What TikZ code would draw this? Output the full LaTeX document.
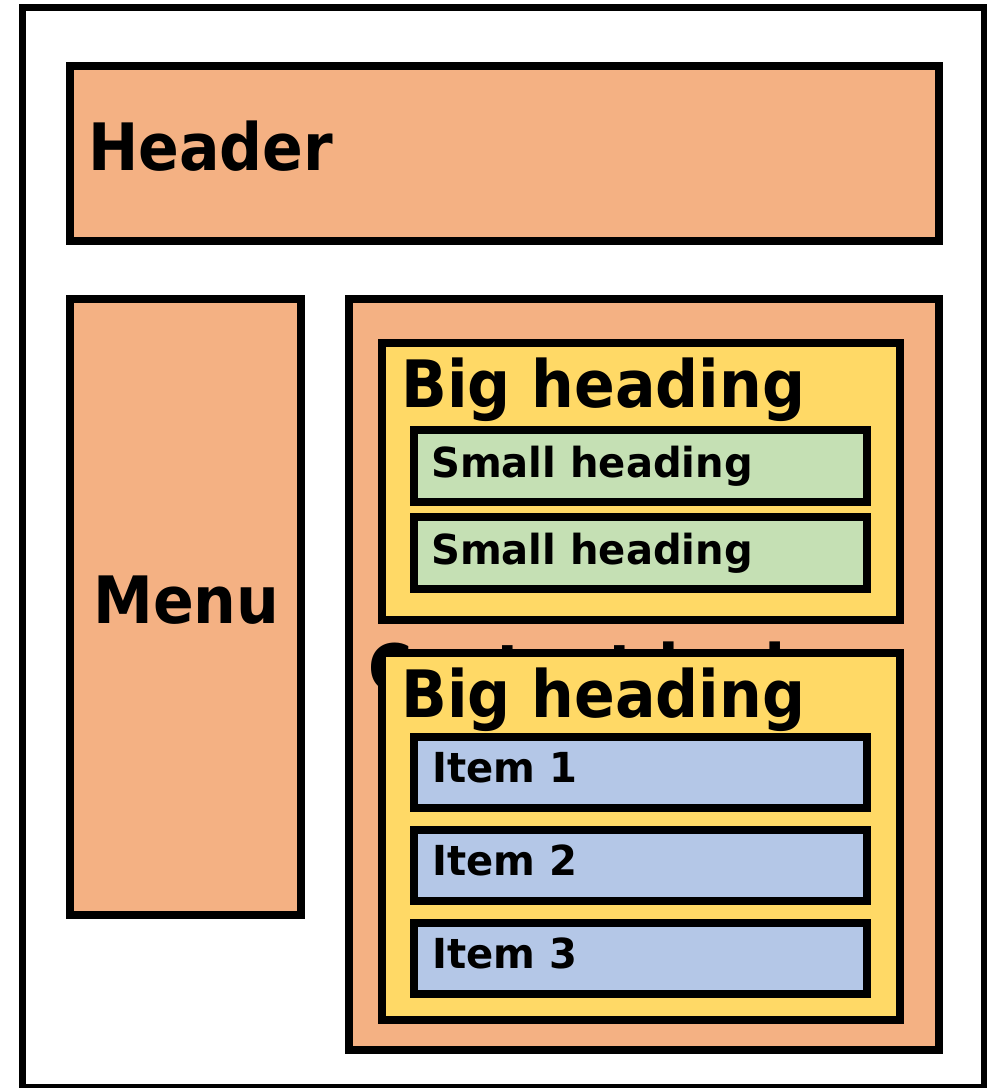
\documentclass[tikz,border=0pt]{standalone}
\usepackage{fontspec}
\setmainfont{DejaVu Sans}
\newfontfamily\labelfont{DejaVu Sans}[FakeStretch=0.92]
\newfontfamily\smalllabelfont{DejaVu Sans}[FakeStretch=0.97]
\definecolor{panelorange}{HTML}{F4B183}
\definecolor{panelyellow}{HTML}{FFD966}
\definecolor{panelgreen}{HTML}{C5E0B4}
\definecolor{panelblue}{HTML}{B4C7E7}
\tikzset{
  frame/.style={draw=black, line width=5.25pt, fill=white},
  panel/.style={draw=black, line width=6pt, fill=#1},
  bigtext/.style={inner sep=0pt, anchor=base west, font=\labelfont\bfseries\fontsize{49}{58}\selectfont},
  smalltext/.style={inner sep=0pt, anchor=base west, font=\smalllabelfont\bfseries\fontsize{31}{37}\selectfont},
}
\begin{document}
\begin{tikzpicture}[x=0.75pt, y=-0.75pt]
  \useasboundingbox (0,0) rectangle (987,1088);
  % page frame
  \draw[frame] (22.5,7.5) rectangle (984.5,1087.5);
  % header
  \draw[panel=panelorange] (70,66) rectangle (939,241);
  \node[bigtext] (header) at (88,170) {Header};
  % side menu
  \draw[panel=panelorange] (70,299) rectangle (301,915);
  \node[bigtext] (menu) at (93,623) {Menu};
  % content area with its label underneath the sections
  \draw[panel=panelorange] (349,299) rectangle (939,1050);
  \node[bigtext] (content) at (368,691) {Content body};
  % first section
  \draw[panel=panelyellow] (382,343) rectangle (899.5,620);
  \node[bigtext] (big1) at (401,407) {Big heading};
  \draw[panel=panelgreen] (414,430) rectangle (867,502);
  \node[smalltext] (small1) at (431,477) {Small heading};
  \draw[panel=panelgreen] (414,517) rectangle (867,589);
  \node[smalltext] (small2) at (431,564) {Small heading};
  % second section
  \draw[panel=panelyellow] (382,653) rectangle (899.5,1020);
  \node[bigtext] (big2) at (401,717) {Big heading};
  \draw[panel=panelblue] (414,737) rectangle (867,808);
  \node[smalltext] (item1) at (432,782) {Item 1};
  \draw[panel=panelblue] (414,830) rectangle (867,901);
  \node[smalltext] (item2) at (432,875) {Item 2};
  \draw[panel=panelblue] (414,923) rectangle (867,994);
  \node[smalltext] (item3) at (432,968) {Item 3};
\end{tikzpicture}
\end{document}
